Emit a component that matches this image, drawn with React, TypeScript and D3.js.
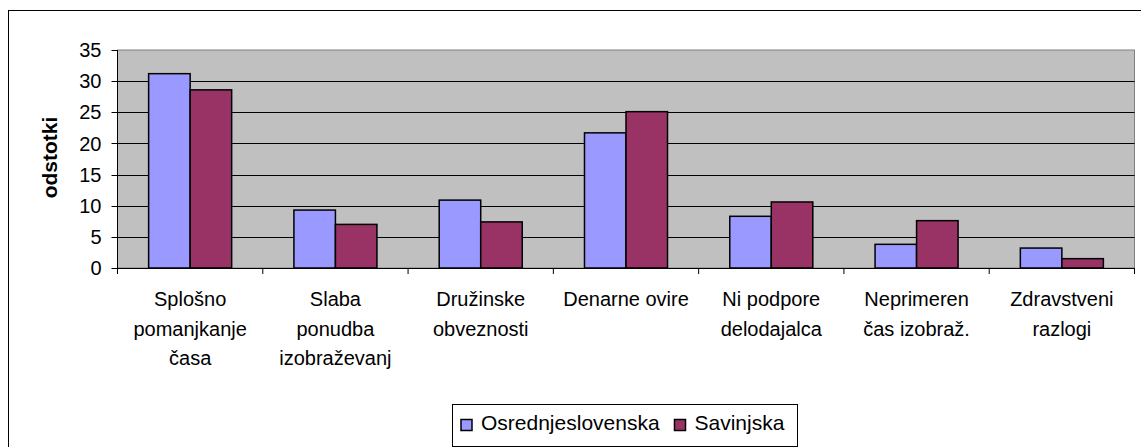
import React from "react";
import * as d3 from "d3";

const categories: string[][] = [
  ["Splošno", "pomanjkanje", "časa"],
  ["Slaba", "ponudba", "izobraževanj"],
  ["Družinske", "obveznosti"],
  ["Denarne ovire"],
  ["Ni podpore", "delodajalca"],
  ["Neprimeren", "čas izobraž."],
  ["Zdravstveni", "razlogi"],
];
const seriesNames = ["Osrednjeslovenska", "Savinjska"];
const osrednjeslovenska = [31.2, 9.3, 10.9, 21.7, 8.3, 3.8, 3.2];
const savinjska = [28.6, 7.0, 7.4, 25.1, 10.6, 7.6, 1.5];
const seriesColors = ["#9999FF", "#993366"];
const yTicks = [0, 5, 10, 15, 20, 25, 30, 35];
const yTitle = "odstotki";

const W = 1141;
const H = 447;
const plot = { left: 117.5, right: 1134.5, top: 50, bottom: 268 };
const FONT = "'Liberation Sans', Arial, sans-serif";

export default function App() {
  const x = d3
    .scaleBand<number>()
    .domain(d3.range(categories.length))
    .range([plot.left, plot.right])
    .paddingInner(0)
    .paddingOuter(0);
  const y = d3.scaleLinear().domain([0, 35]).range([plot.bottom, plot.top]);
  const step = x.bandwidth();
  const barW = step / 3.5;
  const series = [osrednjeslovenska, savinjska];

  return (
    <svg
      width={W}
      height={H}
      style={{ position: "absolute", left: 0, top: 0, background: "#fff" }}
      fontFamily={FONT}
    >
      <rect x={8.5} y={10.5} width={1200} height={500} fill="#fff" stroke="#000" strokeWidth={1} />
      {/* plot background */}
      <rect
        x={plot.left}
        y={plot.top}
        width={plot.right - plot.left}
        height={plot.bottom - plot.top}
        fill="#C0C0C0"
        stroke="#808080"
        strokeWidth={1}
      />
      {/* gridlines */}
      {yTicks.slice(1, -1).map((t) => (
        <line
          key={"g" + t}
          x1={plot.left}
          x2={plot.right}
          y1={Math.round(y(t)) + 0.5}
          y2={Math.round(y(t)) + 0.5}
          stroke="#000"
          strokeWidth={1}
        />
      ))}
      {/* bars */}
      {categories.map((_, i) => {
        const c = (x(i) as number) + step / 2;
        return series.map((s, k) => {
          const x0 = c - barW + k * barW;
          return (
            <rect
              key={`b${i}-${k}`}
              x={x0}
              y={y(s[i])}
              width={barW}
              height={plot.bottom - y(s[i])}
              fill={seriesColors[k]}
              stroke="#000"
              strokeWidth={1.5}
            />
          );
        });
      })}
      {/* axes */}
      <line x1={plot.left} x2={plot.left} y1={plot.top} y2={plot.bottom} stroke="#000" strokeWidth={1} />
      <line x1={plot.left} x2={plot.right} y1={plot.bottom + 0.5} y2={plot.bottom + 0.5} stroke="#000" strokeWidth={1} />
      {yTicks.map((t) => (
        <g key={"t" + t}>
          <line
            x1={plot.left - 6}
            x2={plot.left}
            y1={Math.round(y(t)) + 0.5}
            y2={Math.round(y(t)) + 0.5}
            stroke="#000"
          />
          <text
            x={101.5}
            y={y(t)}
            dy="0.36em"
            textAnchor="end"
            fontSize={20}
            fill="#000"
          >
            {t}
          </text>
        </g>
      ))}
      {d3.range(categories.length + 1).map((i) => {
        const xx = plot.left + i * step;
        return (
          <line key={"xt" + i} x1={xx} x2={xx} y1={plot.bottom} y2={plot.bottom + 6} stroke="#000" />
        );
      })}
      {/* category labels */}
      {categories.map((lines, i) => {
        const c = (x(i) as number) + step / 2;
        return (
          <text key={"c" + i} x={c} y={306} textAnchor="middle" fontSize={20} fill="#000">
            {lines.map((l, j) => (
              <tspan key={j} x={c} dy={j === 0 ? 0 : 29.5}>
                {l}
              </tspan>
            ))}
          </text>
        );
      })}
      {/* y title */}
      <text
        transform={`translate(57,157.5) rotate(-90)`}
        textAnchor="middle"
        fontSize={21}
        fontWeight="bold"
        fill="#000"
      >
        {yTitle}
      </text>
      {/* legend */}
      <rect x={452.5} y={404.5} width={345} height={42} fill="#fff" stroke="#000" strokeWidth={1} />
      {seriesNames.map((n, k) => {
        const sx = k === 0 ? 461 : 674.5;
        return (
          <g key={"l" + k}>
            <rect x={sx} y={419.5} width={11} height={11} fill={seriesColors[k]} stroke="#000" strokeWidth={1.5} />
            <text x={sx + 20} y={430} fontSize={21} fill="#000">
              {n}
            </text>
          </g>
        );
      })}
    </svg>
  );
}
